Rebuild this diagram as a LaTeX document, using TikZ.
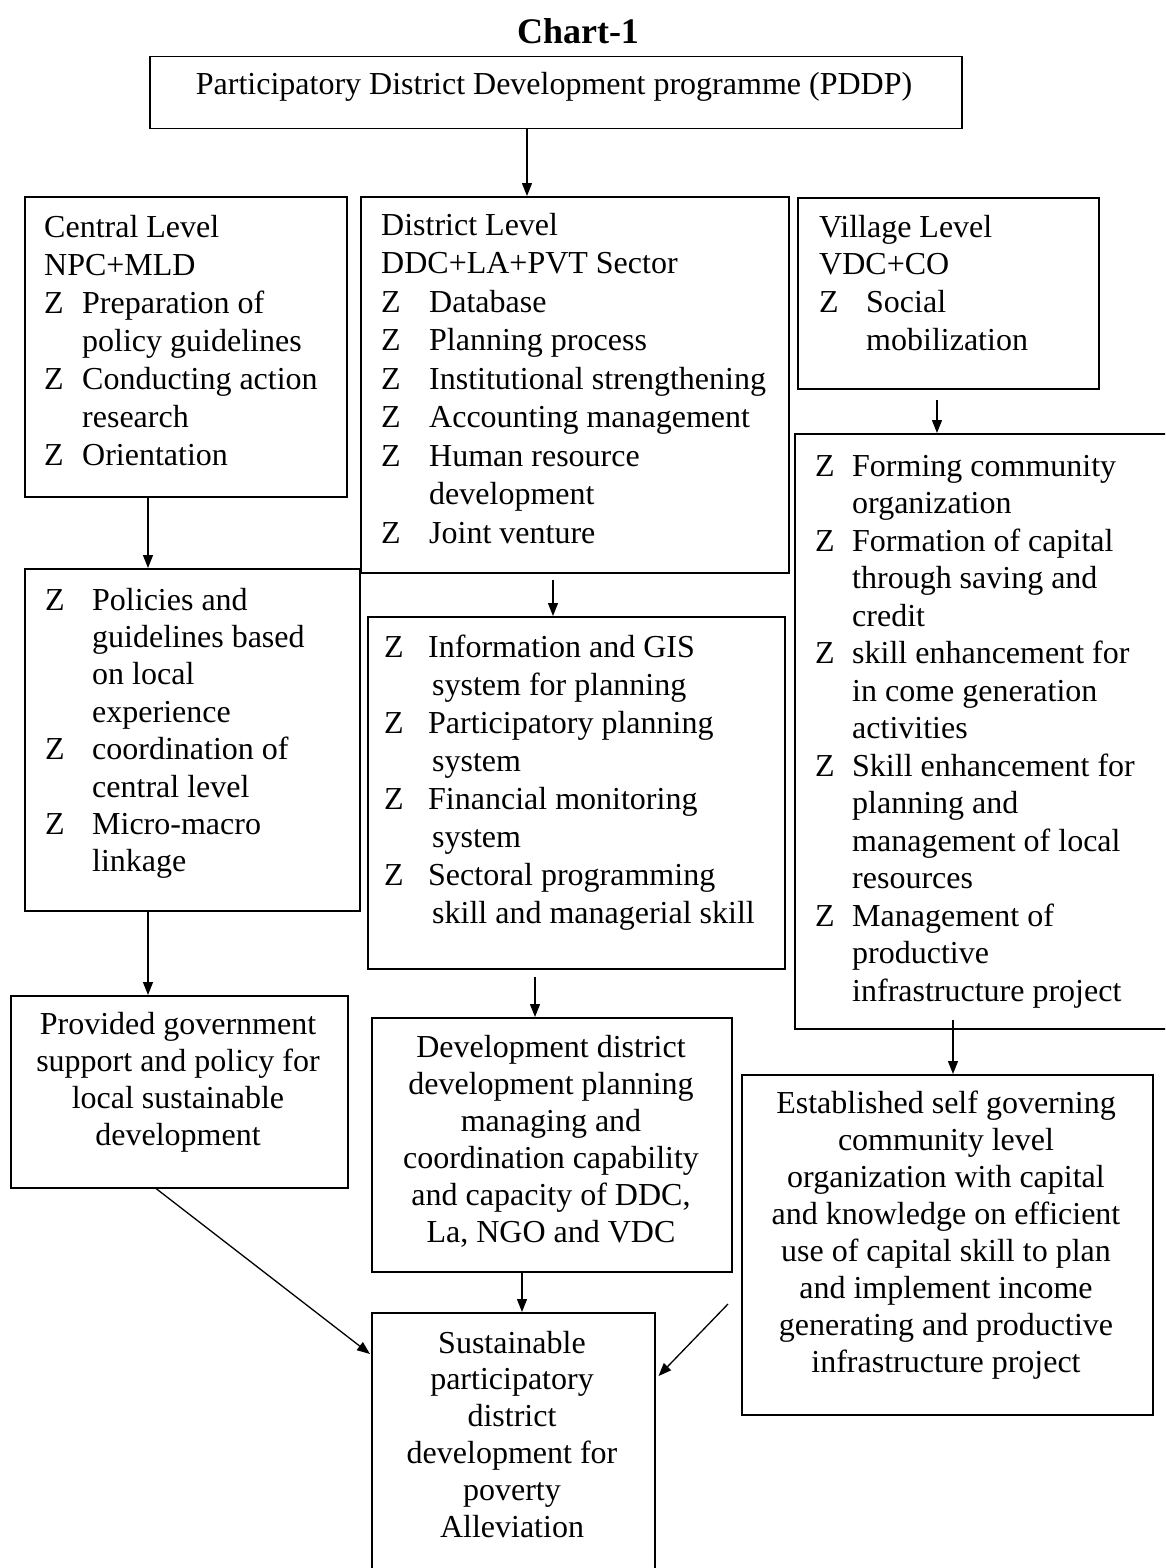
\documentclass[tikz,border=0pt]{standalone}
\usepackage{fontspec}
\setmainfont{Liberation Serif}
\usetikzlibrary{arrows.meta,calc}
\newcommand\fsz[1]{\fontsize{32}{#1}\selectfont}
\newcommand\zb[1]{\makebox[#1pt][l]{Z}}
\newcommand\zc[1]{\hspace*{#1pt}}
\begin{document}
\begin{tikzpicture}[x=1pt,y=-1pt]
\tikzset{
 boxn/.style={draw=black, line width=1.5pt, inner sep=0pt, anchor=north west},
 txt/.style={inner sep=0pt, align=left, anchor=north west},
 ctxt/.style={inner sep=0pt, align=center, anchor=north},
 arr/.style={line width=1.3pt, -{Triangle[length=13pt,width=10pt]}},
}
\useasboundingbox (0,0) rectangle (1165,1568);
\clip (0,0) rectangle (1165,1568);
\fill[white] (0,0) rectangle (1165,1568);

% title
\node[inner sep=0pt, anchor=base, font=\fontsize{36}{40}\selectfont\bfseries] (title) at (578,44) {Chart-1};

% boxes
\node[boxn, minimum width=812pt, minimum height=72pt] (top) at (149,56) {};
\node[boxn, minimum width=322pt, minimum height=300pt] (central) at (24,196) {};
\node[boxn, minimum width=428pt, minimum height=376pt] (district) at (360,196) {};
\node[boxn, minimum width=301pt, minimum height=191pt] (village) at (797,197) {};
\node[boxn, minimum width=335pt, minimum height=342pt] (policies) at (24,568) {};
\node[boxn, minimum width=417pt, minimum height=352pt] (info) at (367,616) {};
\node[boxn, minimum width=406pt, minimum height=595pt] (forming) at (794,433) {};
\node[boxn, minimum width=337pt, minimum height=192pt] (provided) at (10,995) {};
\node[boxn, minimum width=360pt, minimum height=254pt] (devel) at (371,1017) {};
\node[boxn, minimum width=411pt, minimum height=340pt] (established) at (741,1074) {};
\node[boxn, minimum width=283pt, minimum height=308pt] (sustain) at (371,1312) {};

% texts
\node[inner sep=0pt, anchor=base, font=\fsz{37}] (topt) at (554,95) {Participatory District Development programme (PDDP)};

\node[txt, font=\fsz{38}] (centralt) at (44,210.4) {\strut Central Level\\
NPC+MLD\\
\zb{38}Preparation of\\
\zc{38}policy guidelines\\
\zb{38}Conducting action\\
\zc{38}research\\
\zb{38}Orientation};

\node[txt, font=\fsz{38.5}] (districtt) at (381,208) {\strut District Level\\
DDC+LA+PVT Sector\\
\zb{48}Database\\
\zb{48}Planning process\\
\zb{48}Institutional strengthening\\
\zb{48}Accounting management\\
\zb{48}Human resource\\
\zc{48}development\\
\zb{48}Joint venture};

\node[txt, font=\fsz{37.7}] (villaget) at (819,210.6) {\strut Village Level\\
VDC+CO\\
\zb{47}Social\\
\zc{47}mobilization};

\node[txt, font=\fsz{37.4}] (policiest) at (45,583.8) {\strut\zb{47}Policies and\\
\zc{47}guidelines based\\
\zc{47}on local\\
\zc{47}experience\\
\zb{47}coordination of\\
\zc{47}central level\\
\zb{47}Micro-macro\\
\zc{47}linkage};

\node[txt, font=\fsz{38}] (infot) at (384,630.4) {\strut\zb{44}Information and GIS\\
\zc{48}system for planning\\
\zb{44}Participatory planning\\
\zc{48}system\\
\zb{44}Financial monitoring\\
\zc{48}system\\
\zb{44}Sectoral programming\\
\zc{48}skill and managerial skill};

\node[txt, font=\fsz{37.5}] (formingt) at (815,450) {\strut\zb{37}Forming community\\
\zc{37}organization\\
\zb{37}Formation of capital\\
\zc{37}through saving and\\
\zc{37}credit\\
\zb{37}skill enhancement for\\
\zc{37}in come generation\\
\zc{37}activities\\
\zb{37}Skill enhancement for\\
\zc{37}planning and\\
\zc{37}management of local\\
\zc{37}resources\\
\zb{37}Management of\\
\zc{37}productive\\
\zc{37}infrastructure project};

\node[ctxt, font=\fsz{37}] (providedt) at (178,1008.1) {\strut Provided government\\
support and policy for\\
local sustainable\\
development};

\node[ctxt, font=\fsz{37}] (develt) at (551,1031.1) {\strut Development district\\
development planning\\
managing and\\
coordination capability\\
and capacity of DDC,\\
La, NGO and VDC};

\node[ctxt, font=\fsz{37}] (establishedt) at (946,1087.1) {\strut Established self governing\\
community level\\
organization with capital\\
and knowledge on efficient\\
use of capital skill to plan\\
and implement income\\
generating and productive\\
infrastructure project};

\node[ctxt, font=\fsz{36.8}] (sustaint) at (512,1327.2) {\strut Sustainable\\
participatory\\
district\\
development for\\
poverty\\
Alleviation};

% arrows
\draw[arr] ($(top.south west)+(378,0)$) -- ($(district.north west)+(167,0)$);
\draw[arr] ($(central.south west)+(124,0)$) -- ($(policies.north west)+(124,0)$);
\draw[arr, shorten <=6pt] ($(district.south west)+(193,0)$) -- ($(info.north west)+(186,0)$);
\draw[arr, shorten <=10pt] ($(village.south west)+(140,0)$) -- ($(forming.north west)+(143,0)$);
\draw[arr] ($(policies.south west)+(124,0)$) -- ($(provided.north west)+(138,0)$);
\draw[arr, shorten <=7pt] ($(info.south west)+(168,0)$) -- ($(devel.north west)+(164,0)$);
\draw[arr, shorten <=-10pt] ($(forming.south west)+(159,0)$) -- ($(established.north west)+(212,0)$);
\draw[arr] ($(devel.south west)+(151,0)$) -- ($(sustain.north west)+(151,0)$);
\draw[arr] ($(provided.south west)+(146,0)$) -- ($(sustain.north west)+(-1,42)$);
\draw[arr] ($(established.north west)+(-13,230)$) -- ($(sustain.north east)+(3,64)$);
\end{tikzpicture}
\end{document}
